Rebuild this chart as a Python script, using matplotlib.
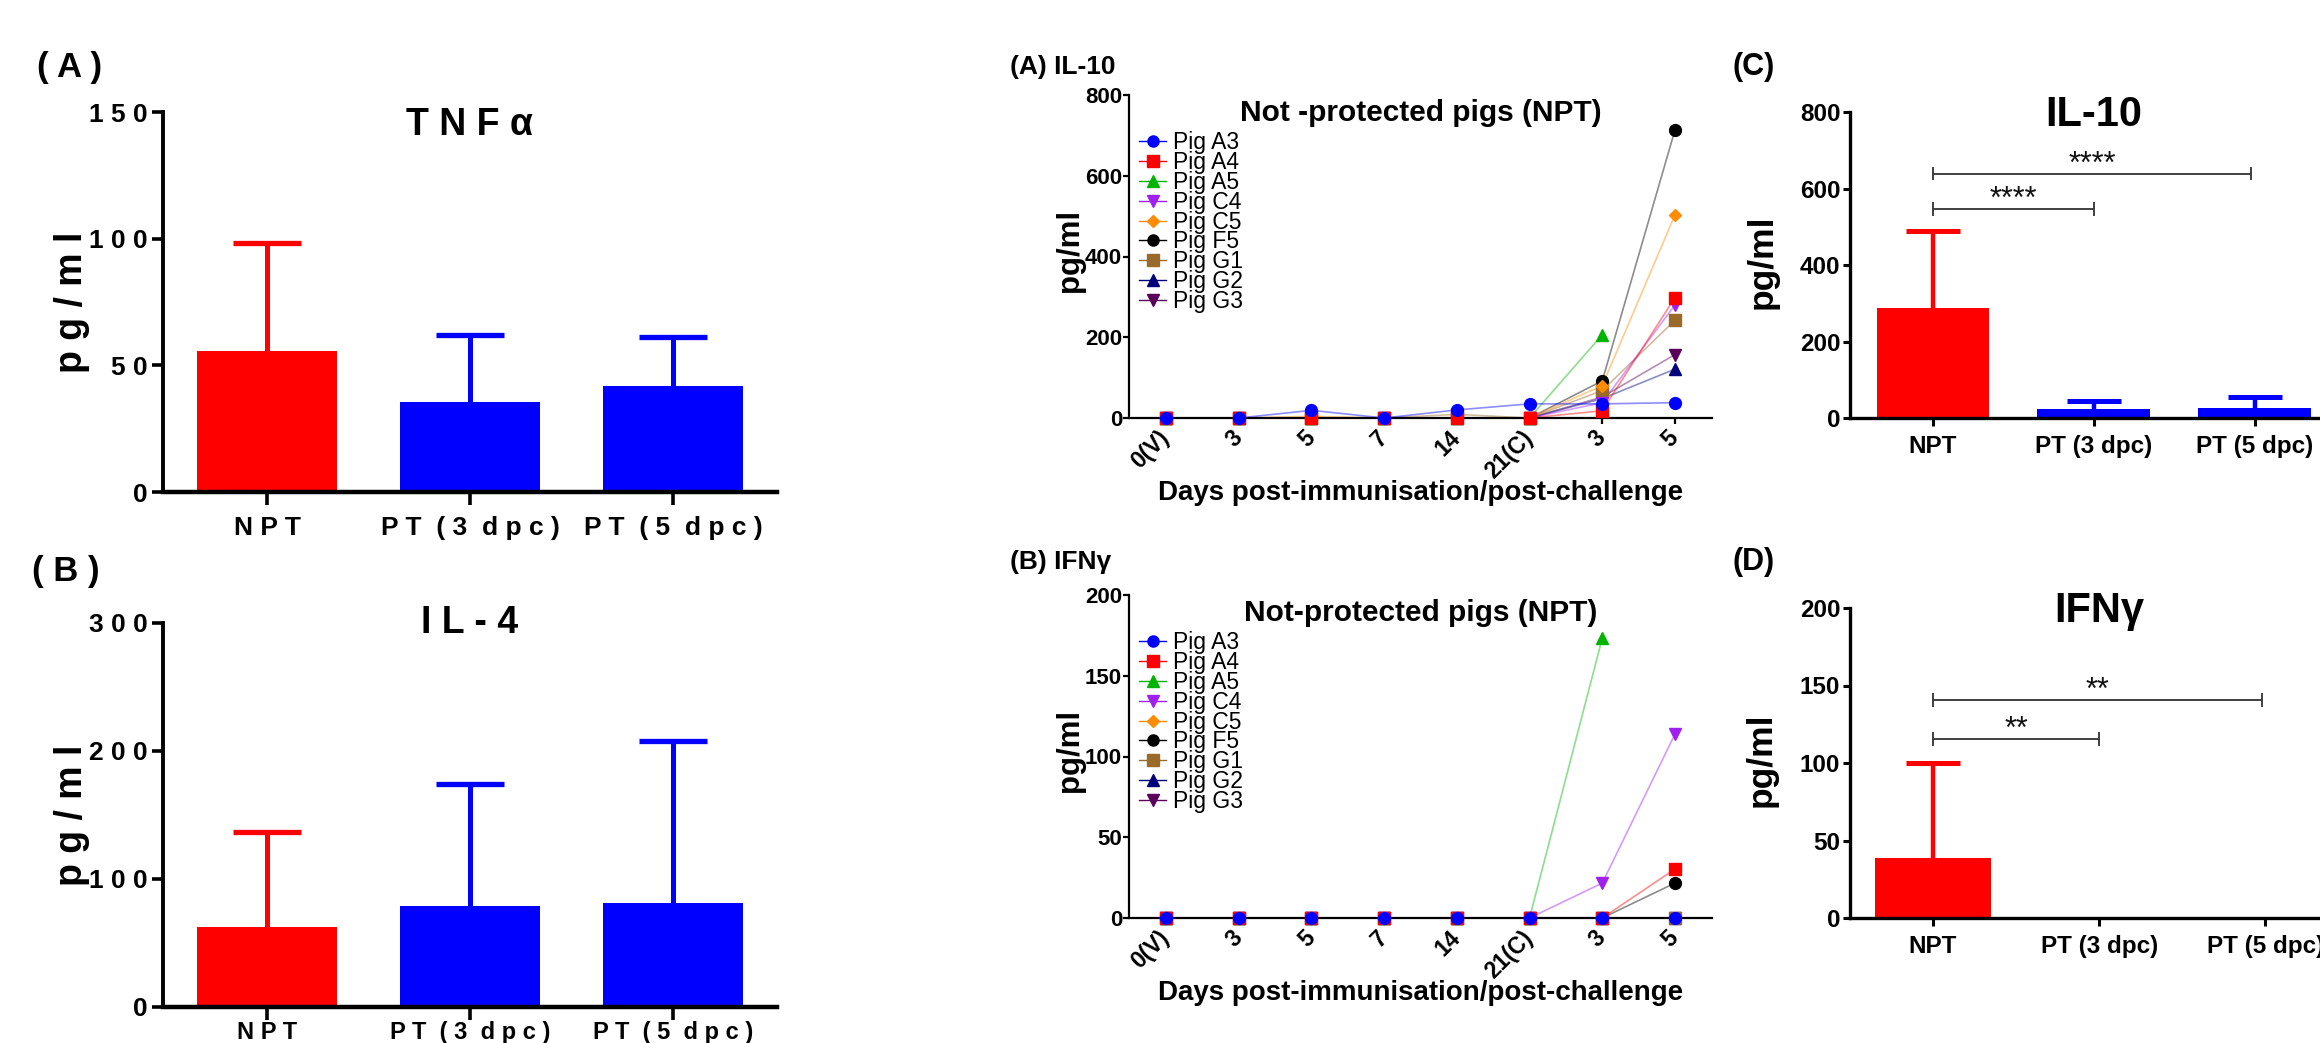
import numpy as np
import matplotlib
matplotlib.use('Agg')
import matplotlib.pyplot as plt
from matplotlib import font_manager as fm
from matplotlib.transforms import ScaledTranslation
from matplotlib.lines import Line2D

_names = {f.name for f in fm.fontManager.ttflist}
NARROW = 'Liberation Sans Narrow' if 'Liberation Sans Narrow' in _names else 'Liberation Sans'
ARIAL = 'Liberation Sans'
plt.rcParams['font.family'] = [ARIAL, 'DejaVu Sans']

# ---------------- data ----------------
groups = ['NPT', 'PT (3 dpc)', 'PT (5 dpc)']
group_colors = ['#ff0000', '#0000ff', '#0000ff']

tnfa_mean = [55.7, 35.5, 41.9]
tnfa_upper = [98.4, 62.1, 61.0]
il4_mean = [62.8, 78.9, 81.0]
il4_upper = [136.7, 174.2, 208.1]
il10_mean = [288.0, 22.7, 27.0]
il10_upper = [490.0, 43.6, 54.0]
ifng_mean = [38.7, 0.0, 0.0]
ifng_upper = [100.0, 0.0, 0.0]

days = ['0(V)', '3', '5', '7', '14', '21(C)', '3', '5']
pigs = ['Pig A3', 'Pig A4', 'Pig A5', 'Pig C4', 'Pig C5', 'Pig F5', 'Pig G1', 'Pig G2', 'Pig G3']
pig_colors = ['#0000ff', '#ff0000', '#00b400', '#a020f0', '#ff8c00', '#000000', '#9a6a2a', '#00007a', '#5a005a']
pig_markers = ['o', 's', '^', 'v', 'D', 'o', 's', '^', 'v']

nan = np.nan
il10_A3 = [0, 0, 19, 0, 20, 35, 35, 38]
il10_A4 = [0, 0, 0, 0, 0, 0, 18, 298]
il10_A5 = [0, 0, 0, 0, 0, 0, 206, nan]
il10_C4 = [0, 0, 0, 0, 0, 0, 38, 280]
il10_C5 = [0, 0, 4, 0, 0, 0, 80, 503]
il10_F5 = [0, 0, 0, 0, 0, 0, 92, 713]
il10_G1 = [0, 0, 0, 0, 9, 0, 68, 242]
il10_G2 = [0, 0, 0, 0, 0, 0, 48, 121]
il10_G3 = [0, 0, 0, 0, 0, 0, 52, 157]

ifng_A3 = [0, 0, 0, 0, 0, 0, 0, 0]
ifng_A4 = [0, 0, 0, 0, 0, 0, 0, 30.3]
ifng_A5 = [0, 0, 0, 0, 0, 0, 173.2, nan]
ifng_C4 = [0, 0, 0, 0, 0, 0, 21.6, 113.8]
ifng_C5 = [0, 0, 0, 0, 0, 0, 0, 0]
ifng_F5 = [0, 0, 0, 0, 0, 0, 0, 21.6]
ifng_G1 = [0, 0, 0, 0, 0, 0, 0, 0]
ifng_G2 = [0, 0, 0, 0, 0, 0, 0, 0]
ifng_G3 = [0, 0, 0, 0, 0, 0, 0, 0]

il10_series = [il10_A3, il10_A4, il10_A5, il10_C4, il10_C5, il10_F5, il10_G1, il10_G2, il10_G3]
ifng_series = [ifng_A3, ifng_A4, ifng_A5, ifng_C4, ifng_C5, ifng_F5, ifng_G1, ifng_G2, ifng_G3]

# ---------------- figure ----------------
W, H = 2320, 1043
fig = plt.figure(figsize=(W / 100, H / 100), dpi=100)


def rect(l, t, r, b):
    return [l / W, 1 - b / H, (r - l) / W, (b - t) / H]


def spaced(s):
    out = ' '.join([c for c in s])
    return out.replace('   ', '  ')


def upper_errorbars(ax, x, mean, upper, colors, stem_w, cap_len, cap_w):
    for xi, m, u, c in zip(x, mean, upper, colors):
        if u > m:
            ax.plot([xi, xi], [m, u], color=c, lw=stem_w, solid_capstyle='butt', zorder=2)
            ax.plot([xi], [u], marker='_', markersize=cap_len, markeredgewidth=cap_w,
                    color=c, zorder=2, linestyle='none')


# ---------- left bar panels ----------
def left_panel(r, mean, upper, ymax, step, title, title_y, xpad, xfs):
    ax = fig.add_axes(r)
    x = np.arange(len(groups))
    ax.bar(x, mean, width=0.69, color=group_colors, zorder=1)
    upper_errorbars(ax, x, mean, upper, group_colors, 3.6, 49, 3.8)
    ax.set_xlim(-0.512, 2.512)
    ax.set_ylim(0, ymax)
    for s in ['top', 'right']:
        ax.spines[s].set_visible(False)
    ax.spines['left'].set_linewidth(2.8)
    ax.spines['bottom'].set_linewidth(3.2)
    ax.set_yticks(np.arange(0, ymax + 1, step))
    ax.set_yticklabels([spaced(str(int(v))) for v in np.arange(0, ymax + 1, step)],
                       fontfamily=NARROW, fontweight='bold', fontsize=19)
    ax.set_xticks(x)
    ax.set_xticklabels([spaced(g) for g in groups], fontfamily=NARROW,
                       fontweight='bold', fontsize=xfs)
    ax.tick_params(axis='y', length=8, width=2.6, pad=3)
    ax.tick_params(axis='x', length=9, width=2.6, pad=xpad)
    ax.text(-0.148, 0.5, spaced('pg/ml'), transform=ax.transAxes, rotation=90,
            ha='center', va='center', fontfamily=NARROW, fontweight='bold', fontsize=27)
    ax.text(1, title_y, spaced(title), transform=ax.get_xaxis_transform(),
            ha='center', va='center', fontfamily=NARROW, fontweight='bold', fontsize=27)
    return ax


left_panel(rect(163, 112, 777, 492), tnfa_mean, tnfa_upper, 150, 50, 'TNFα', 0.966, 8, 19)
left_panel(rect(163, 623, 777, 1007), il4_mean, il4_upper, 300, 100, 'IL-4', 1.0, 1, 17)
fig.text(70 / W, 1 - 67 / H, '( A )', ha='center', va='center', fontfamily=NARROW,
         fontweight='bold', fontsize=25)
fig.text(66 / W, 1 - 571 / H, '( B )', ha='center', va='center', fontfamily=NARROW,
         fontweight='bold', fontsize=25)


# ---------- middle line panels ----------
def line_panel(r, series, ymax, step, title):
    ax = fig.add_axes(r)
    x = np.arange(len(days))
    for i in range(len(pigs) - 1, -1, -1):
        y = np.array(series[i], dtype=float)
        ax.plot(x, y, color=pig_colors[i], alpha=0.45, lw=1.2, zorder=2, clip_on=False)
        ax.plot(x, y, linestyle='none', marker=pig_markers[i], color=pig_colors[i],
                markersize=8.5 if pig_markers[i] != 'D' else 6.5, zorder=3, clip_on=False)
    leg_h = [Line2D([0], [0], color=pig_colors[i], lw=1.0,
                    marker=pig_markers[i], markersize=8 if pig_markers[i] != 'D' else 6.5,
                    markerfacecolor=pig_colors[i], markeredgecolor=pig_colors[i])
             for i in range(len(pigs))]
    ax.legend(leg_h, pigs, loc='upper left', bbox_to_anchor=(0.017, 0.887),
              frameon=False, fontsize=16.5, handlelength=1.2, handletextpad=0.3,
              labelspacing=-0.14, borderpad=0, borderaxespad=0)
    ax.set_xlim(-0.51, 7.51)
    ax.set_ylim(0, ymax)
    for s in ['top', 'right']:
        ax.spines[s].set_visible(False)
    ax.spines['left'].set_linewidth(1.6)
    ax.spines['bottom'].set_linewidth(1.6)
    ax.set_yticks(np.arange(0, ymax + 1, step))
    ax.set_yticklabels([str(int(v)) for v in np.arange(0, ymax + 1, step)],
                       fontweight='bold', fontsize=16)
    ax.set_xticks(x)
    ax.set_xticklabels(days, fontweight='bold', fontsize=16.5, rotation=45,
                       ha='right', va='center', rotation_mode='anchor')
    off = ScaledTranslation(4 / 100, 0, fig.dpi_scale_trans)
    for lab in ax.get_xticklabels():
        lab.set_transform(lab.get_transform() + off)
    ax.tick_params(axis='y', length=4, width=1.6, pad=1)
    ax.tick_params(axis='x', length=4, width=1.6, pad=8)
    ax.text(-0.101, 0.52, 'pg/ml', transform=ax.transAxes, rotation=90,
            ha='center', va='center', fontweight='bold', fontsize=22.5)
    ax.text(0.5, -0.232, 'Days post-immunisation/post-challenge', transform=ax.transAxes,
            ha='center', va='center', fontweight='bold', fontsize=20)
    ax.text(0.5, 0.944, title, transform=ax.transAxes, ha='center', va='center',
            fontweight='bold', fontsize=21.5)
    return ax


line_panel(rect(1129, 95, 1712, 418), il10_series, 800, 200, 'Not -protected pigs (NPT)')
line_panel(rect(1129, 595, 1712, 918), ifng_series, 200, 50, 'Not-protected pigs (NPT)')
fig.text(1010 / W, 1 - 67 / H, '(A) IL-10', ha='left', va='center', fontweight='bold', fontsize=19)
fig.text(1010 / W, 1 - 562 / H, '(B) IFNγ', ha='left', va='center', fontweight='bold', fontsize=19)


# ---------- right bar panels ----------
def right_panel(r, xmin, xmax, mean, upper, ymax, step, title, brackets, tick_half):
    ax = fig.add_axes(r)
    x = np.arange(len(groups))
    ax.bar(x, mean, width=0.70, color=group_colors, zorder=1)
    upper_errorbars(ax, x, mean, upper, group_colors, 3.2, 39, 3.6)
    for (x0, x1, yb, stars) in brackets:
        ax.plot([x0, x1], [yb, yb], color='#404040', lw=1.4, zorder=3)
        for xe in (x0, x1):
            ax.plot([xe, xe], [yb - tick_half, yb + tick_half], color='#404040', lw=1.4, zorder=3)
        ax.text((x0 + x1) / 2, yb + tick_half * 0.2, stars, ha='center', va='baseline',
                fontsize=22, color='#111111')
    ax.set_xlim(xmin, xmax)
    ax.set_ylim(0, ymax)
    for s in ['top', 'right']:
        ax.spines[s].set_visible(False)
    ax.spines['left'].set_linewidth(2.4)
    ax.spines['bottom'].set_linewidth(2.4)
    ax.set_yticks(np.arange(0, ymax + 1, step))
    ax.set_yticklabels([str(int(v)) for v in np.arange(0, ymax + 1, step)],
                       fontweight='bold', fontsize=17.5)
    ax.set_xticks(x)
    ax.set_xticklabels(groups, fontweight='bold', fontsize=17.5)
    ax.tick_params(axis='y', length=5, width=2.2, pad=2)
    ax.tick_params(axis='x', length=6, width=2.2, pad=6)
    ax.text(-0.181, 0.51, 'pg/ml', transform=ax.transAxes, rotation=90,
            ha='center', va='center', fontweight='bold', fontsize=25.5)
    ax.text(1, 0.99, title, transform=ax.get_xaxis_transform(), ha='center', va='center',
            fontweight='bold', fontsize=30)
    return ax


right_panel(rect(1850, 112, 1850 + 485, 418), -0.515, 2.5, il10_mean, il10_upper, 800, 200,
            'IL-10', [(0, 1, 547, '****'), (0, 1.98, 639, '****')], 15)
right_panel(rect(1850, 608, 1850 + 490, 918), -0.5, 2.45, ifng_mean, ifng_upper, 200, 50,
            'IFNγ', [(0, 1, 115.3, '**'), (0, 1.98, 140.4, '**')], 3.9)
fig.text(1733 / W, 1 - 67 / H, '(C)', ha='left', va='center', fontweight='bold', fontsize=22)
fig.text(1733 / W, 1 - 562 / H, '(D)', ha='left', va='center', fontweight='bold', fontsize=22)

fig.savefig('out.png', dpi=100)
